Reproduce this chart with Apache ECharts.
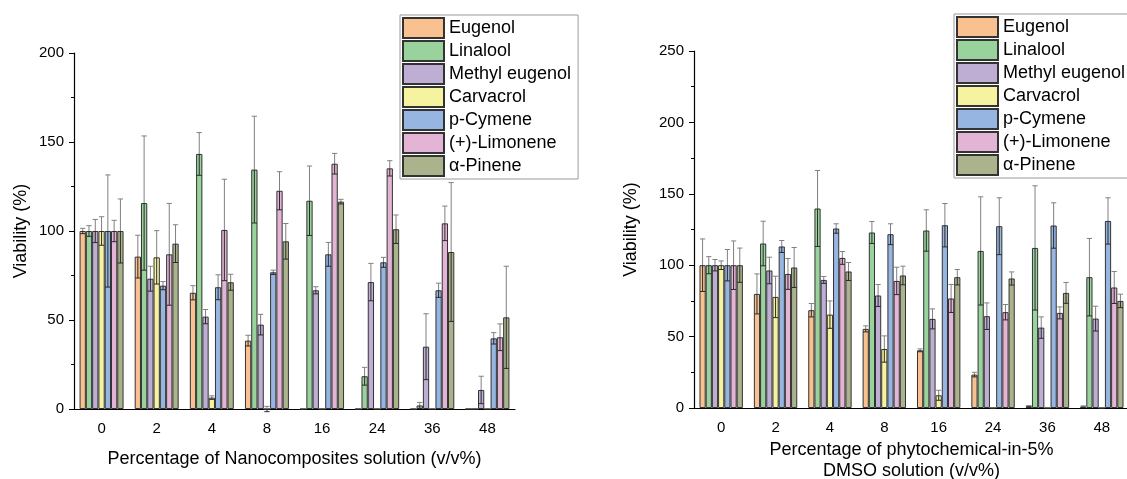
<!DOCTYPE html>
<html>
<head>
<meta charset="utf-8">
<script src="https://cdn.jsdelivr.net/npm/echarts@6/dist/echarts.min.js"></script>
<style>
  html, body {margin: 0; padding: 0; background: #fff;}
  #chart {width: 1127px; height: 479px;}
</style>
</head>
<body>
<div id="chart"></div>
<script>
// categories (v/v%)
const concentrations = ['0', '2', '4', '8', '16', '24', '36', '48'];
const compounds = ['Eugenol', 'Linalool', 'Methyl eugenol', 'Carvacrol', 'p-Cymene', '(+)-Limonene', 'α-Pinene'];

// left: Nanocomposites solution, viability (%) and error
const nanoEugenol = [100, 85.6, 65.3, 38.4, 0, 0, 0, 0];
const nanoEugenolErr = [1.5, 12, 4, 3, 0, 0, 0, 0];
const nanoLinalool = [100, 115.7, 143.3, 134.5, 117, 18.4, 2, 0];
const nanoLinaloolErr = [3, 37.7, 12, 30, 19.5, 5, 1.7, 0];
const nanoMethylEugenol = [100, 73.2, 51.9, 47.4, 66.7, 71.3, 35, 10.7];
const nanoMethylEugenolErr = [6.5, 7, 4, 5.8, 2, 10.5, 18.5, 7.7];
const nanoCarvacrol = [100, 85.2, 6.4, 0, 0, 0, 0, 0];
const nanoCarvacrolErr = [8, 15, 1, 1.5, 0, 0, 0, 0];
const nanoCymene = [100, 69.3, 68.4, 76.8, 86.9, 82.4, 66.7, 39.7];
const nanoCymeneErr = [31.5, 2.3, 7, 1.2, 6.7, 2.8, 4, 3.2];
const nanoLimonene = [100, 86.9, 100.6, 122.6, 137.8, 135.2, 104.3, 40.3];
const nanoLimoneneErr = [6, 28.6, 28.5, 10.7, 5.8, 4.3, 9.7, 7.5];
const nanoPinene = [100, 92.9, 71.2, 94.2, 116.5, 101, 88.2, 51.5];
const nanoPineneErr = [18, 10.6, 4.5, 10, 1.3, 8, 39, 28.7];

// right: phytochemical in 5% DMSO, viability (%) and error
const dmsoEugenol = [100, 79.9, 68.5, 55.4, 40.4, 23.4, 1.2, 1];
const dmsoEugenolErr = [18.4, 14, 4.7, 2.1, 1, 1.6, 0.5, 0.5];
const dmsoLinalool = [100, 115.2, 139.7, 122.9, 124.3, 110, 112.1, 91.6];
const dmsoLinaloolErr = [6, 15.6, 26.6, 7.7, 14.5, 37.9, 43.5, 27.1];
const dmsoMethylEugenol = [100, 96.3, 89.7, 78.8, 62.4, 64.3, 56.3, 62.6];
const dmsoMethylEugenolErr = [4, 9.3, 2.4, 7.7, 7, 9.3, 7.5, 8.7];
const dmsoCarvacrol = [100, 77.8, 65.4, 41.3, 8.9, 0, 0, 0];
const dmsoCarvacrolErr = [3, 14.5, 9.6, 9.2, 3.5, 0, 0, 0];
const dmsoCymene = [100, 113.1, 125.7, 121.7, 128, 127.3, 127.8, 131];
const dmsoCymeneErr = [11, 4.2, 3.3, 7.3, 15.2, 19.9, 15.9, 16.2];
const dmsoLimonene = [100, 93.9, 105.1, 89, 76.7, 67.1, 66.6, 84.4];
const dmsoLimoneneErr = [17, 10.8, 4.5, 9.6, 9.8, 5.4, 4.2, 11.2];
const dmsoPinene = [100, 98.4, 95.6, 92.8, 91.6, 90.7, 80.6, 75];
const dmsoPineneErr = [12, 14, 6.3, 6.5, 5.4, 4.6, 7.3, 4.7];

const leftTicks = [0, 50, 100, 150, 200];
const rightTicks = [0, 50, 100, 150, 200, 250];

const colors = ['#F8C18F', '#99D29C', '#BEAED4', '#F6F3A0', '#96B5E0', '#E3B4D5', '#ABB38C'];
const FONT = 'Liberation Sans, Arial, sans-serif';
const BAR_FRAC = 0.114;

const nanoVals = [nanoEugenol, nanoLinalool, nanoMethylEugenol, nanoCarvacrol, nanoCymene, nanoLimonene, nanoPinene];
const nanoErrs = [nanoEugenolErr, nanoLinaloolErr, nanoMethylEugenolErr, nanoCarvacrolErr, nanoCymeneErr, nanoLimoneneErr, nanoPineneErr];
const dmsoVals = [dmsoEugenol, dmsoLinalool, dmsoMethylEugenol, dmsoCarvacrol, dmsoCymene, dmsoLimonene, dmsoPinene];
const dmsoErrs = [dmsoEugenolErr, dmsoLinaloolErr, dmsoMethylEugenolErr, dmsoCarvacrolErr, dmsoCymeneErr, dmsoLimoneneErr, dmsoPineneErr];

function barSeries(i, vals, axis) {
  return {
    type: 'bar', name: compounds[i], xAxisIndex: axis * 2, yAxisIndex: axis,
    data: vals, barWidth: (BAR_FRAC * 100) + '%', barGap: '0%',
    itemStyle: {color: colors[i], borderColor: '#333', borderWidth: 1},
    emphasis: {disabled: true}, animation: false
  };
}

function errSeries(i, vals, errs, axis) {
  return {
    type: 'custom', name: 'err', xAxisIndex: axis * 2, yAxisIndex: axis, z: 5,
    animation: false, silent: true,
    data: vals.map((v, k) => [k, v, errs[k]]),
    renderItem(params, api) {
      const k = api.value(0), v = api.value(1), e = api.value(2);
      if (!e) return null;
      const band = api.size([1, 0])[0];
      const bw = band * BAR_FRAC;
      const cx = api.coord([k, 0])[0] + (i - 3) * bw;
      const yTop = api.coord([k, v + e])[1];
      const yMid = api.coord([k, v])[1];
      const yBot = api.coord([k, v - e])[1];
      const c = bw * 0.42;
      const outer = {stroke: '#808080', lineWidth: 1};
      const inner = {stroke: '#2a2a2a', lineWidth: 1};
      return {
        type: 'group',
        children: [
          {type: 'line', shape: {x1: cx, y1: yMid, x2: cx, y2: yTop}, style: outer},
          {type: 'line', shape: {x1: cx - c, y1: yTop, x2: cx + c, y2: yTop}, style: outer},
          {type: 'line', shape: {x1: cx, y1: yMid, x2: cx, y2: yBot}, style: inner},
          {type: 'line', shape: {x1: cx - c, y1: yBot, x2: cx + c, y2: yBot}, style: inner}
        ]
      };
    }
  };
}

function xAxes(grid, name, gap, margin) {
  return [{
    type: 'category', gridIndex: grid, data: concentrations,
    name: name, nameLocation: 'middle', nameGap: gap,
    nameTextStyle: {fontSize: 18, color: '#000', fontFamily: FONT, lineHeight: 21},
    axisLine: {lineStyle: {color: '#000', width: 1.2}},
    axisTick: {alignWithLabel: true, length: 5, lineStyle: {color: '#000'}},
    axisLabel: {fontSize: 15, color: '#000', fontFamily: FONT, margin: margin}
  }, {
    type: 'category', gridIndex: grid, data: concentrations, position: 'bottom',
    axisLine: {show: false}, axisLabel: {show: false},
    axisTick: {length: 3, lineStyle: {color: '#000'}}
  }];
}

function yAxis(grid, ticks, gap) {
  return {
    type: 'value', gridIndex: grid, min: ticks[0], max: ticks[ticks.length - 1], interval: ticks[1] - ticks[0],
    name: 'Viability (%)', nameLocation: 'middle', nameGap: gap,
    nameTextStyle: {fontSize: 18, color: '#000', fontFamily: FONT},
    axisLine: {show: true, lineStyle: {color: '#000', width: 1.2}},
    axisTick: {show: true, length: 5, lineStyle: {color: '#000'}},
    minorTick: {show: true, splitNumber: 2, length: 3, lineStyle: {color: '#000'}},
    splitLine: {show: false},
    axisLabel: {fontSize: 15, color: '#000', fontFamily: FONT, margin: 10}
  };
}

function legend(left, top) {
  return {
    data: compounds, orient: 'vertical', left: left, top: top,
    icon: 'rect', itemWidth: 41, itemHeight: 20, itemGap: 1,
    borderColor: '#999', borderWidth: 1, padding: [2, 7, 2, 2],
    backgroundColor: '#fff',
    textStyle: {fontSize: 18, color: '#000', fontFamily: FONT, lineHeight: 18},
    selectedMode: false
  };
}

const series = [];
for (let i = 0; i < 7; i++) series.push(barSeries(i, nanoVals[i], 0));
for (let i = 0; i < 7; i++) series.push(errSeries(i, nanoVals[i], nanoErrs[i], 0));
for (let i = 0; i < 7; i++) series.push(barSeries(i, dmsoVals[i], 1));
for (let i = 0; i < 7; i++) series.push(errSeries(i, dmsoVals[i], dmsoErrs[i], 1));

const chart = echarts.init(document.getElementById('chart'), null, {renderer: 'canvas'});
chart.setOption({
  backgroundColor: '#fff',
  animation: false,
  textStyle: {fontFamily: FONT},
  grid: [
    {left: 74, top: 53, width: 441, height: 356, outerBoundsMode: 'none', containLabel: false},
    {left: 694, top: 51, width: 435, height: 357, outerBoundsMode: 'none', containLabel: false}
  ],
  xAxis: [
    ...xAxes(0, 'Percentage of Nanocomposites solution (v/v%)', 40, 12),
    ...xAxes(1, 'Percentage of phytochemical-in-5%\nDMSO solution (v/v%)', 31, 12)
  ],
  yAxis: [yAxis(0, leftTicks, 44), yAxis(1, rightTicks, 54)],
  legend: [legend(400, 15), legend(954, 14)],
  series: series
});
</script>
</body>
</html>
